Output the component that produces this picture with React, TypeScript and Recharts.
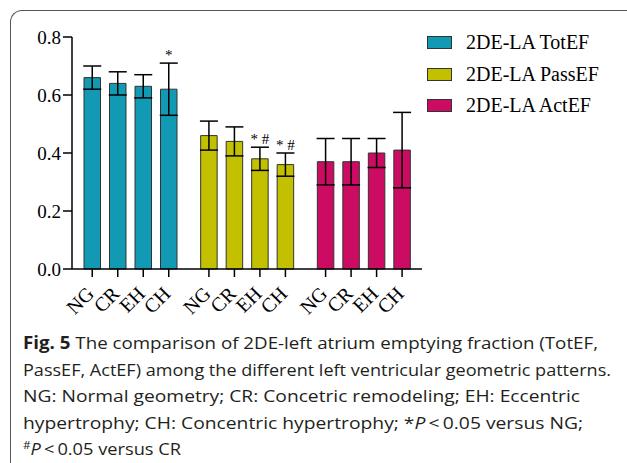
import React from 'react';
import { BarChart, Bar, XAxis, YAxis, Cell, ErrorBar, LabelList, Legend } from 'recharts';

const GROUPS = ['2DE-LA TotEF', '2DE-LA PassEF', '2DE-LA ActEF'];
const COLORS = ['#1299b3', '#c3c000', '#cc0b62'];

// mean per group (TotEF, PassEF, ActEF)
const NG = [0.66, 0.46, 0.37];
const CR = [0.64, 0.44, 0.37];
const EH = [0.63, 0.38, 0.40];
const CH = [0.62, 0.36, 0.41];

// SD
const NG_ERR = [0.04, 0.05, 0.08];
const CR_ERR = [0.04, 0.05, 0.08];
const EH_ERR = [0.04, 0.04, 0.05];
const CH_ERR = [0.09, 0.04, 0.13];

// significance marks
const NG_SIG = ['', '', ''];
const CR_SIG = ['', '', ''];
const EH_SIG = ['', '* #', ''];
const CH_SIG = ['*', '* #', ''];

const Y_TICKS = [0, 0.2, 0.4, 0.6, 0.8];

const SERIES = [
  { key: 'NG', vals: NG, err: NG_ERR, sig: NG_SIG },
  { key: 'CR', vals: CR, err: CR_ERR, sig: CR_SIG },
  { key: 'EH', vals: EH, err: EH_ERR, sig: EH_SIG },
  { key: 'CH', vals: CH, err: CH_ERR, sig: CH_SIG },
];

const data = GROUPS.map((g, i) => {
  const row: any = { group: g };
  SERIES.forEach(s => {
    row[s.key] = s.vals[i];
    row[s.key + '_err'] = s.err[i];
  });
  return row;
});

const SERIF = '"Liberation Serif", "Times New Roman", serif';
const SANS = '"Open Sans", "Noto Sans", sans-serif';

const makeTick = (name: string) => (props: any) => {
  const { x, y, width, height } = props;
  const cx = x + width / 2;
  const base = y + height;
  const ax = cx + 3;
  const ay = base + 26;
  return (
    <g>
      <line x1={cx} y1={base} x2={cx} y2={base + 8} stroke="#000" strokeWidth={1.5} />
      <text
        x={ax}
        y={ay}
        textAnchor="end"
        transform={`rotate(-45 ${ax} ${ay})`}
        fontFamily={SERIF}
        fontSize={20}
        style={{ fill: '#000' }}
      >
        {name}
      </text>
    </g>
  );
};

const makeSig = (sig: string[], err: number[]) => (props: any) => {
  const { x, y, width, height, value, index } = props;
  const mark = sig[index];
  if (!mark) return null;
  const top = y - err[index] * (height / value);
  return (
    <text
      x={x + width / 2}
      y={top - 3}
      textAnchor="middle"
      fontFamily={SERIF}
      fontSize={15}
      style={{ fill: '#000' }}
    >
      {mark}
    </text>
  );
};

const renderLegend = () => (
  <div style={{ fontFamily: SERIF, fontSize: 20, color: '#000' }}>
    {GROUPS.map((g, i) => (
      <div key={g} style={{ display: 'flex', alignItems: 'center', height: 31.5 }}>
        <span
          style={{
            width: 23,
            height: 11,
            background: COLORS[i],
            border: '1px solid #333',
            marginRight: 14,
            display: 'inline-block',
          }}
        />
        <span>{g}</span>
      </div>
    ))}
  </div>
);

const App: React.FC = () => {
  return (
    <div style={{ position: 'absolute', left: 0, top: 0, width: 627, height: 463, background: '#fff', overflow: 'hidden' }}>
      <div
        style={{
          position: 'absolute',
          left: 10,
          top: 10,
          width: 700,
          height: 470,
          borderTop: '1.5px solid #555',
          borderLeft: '1.5px solid #555',
          borderTopLeftRadius: 12,
          boxSizing: 'border-box',
        }}
      />
      <div style={{ position: 'absolute', left: 0, top: 0 }}>
        <BarChart
          width={627}
          height={330}
          data={data}
          margin={{ top: 37, right: 205, left: 0, bottom: 0 }}
          barSize={16.5}
          barGap={9}
        >
          <XAxis
            dataKey="group"
            height={61}
            tick={false}
            tickLine={false}
            axisLine={{ stroke: '#000', strokeWidth: 1.5 }}
          />
          <YAxis
            width={72}
            domain={[0, 0.8]}
            ticks={Y_TICKS}
            interval={0}
            tickFormatter={(v: number) => v.toFixed(1)}
            tickSize={9}
            tickMargin={2}
            tickLine={{ stroke: '#000', strokeWidth: 1.5 }}
            axisLine={{ stroke: '#000', strokeWidth: 1.5 }}
            tick={{ fill: '#000', fontFamily: SERIF, fontSize: 19 }}
          />
          <Legend
            layout="vertical"
            align="center"
            verticalAlign="middle"
            content={renderLegend}
            wrapperStyle={{ left: 427, top: 27, width: 200, height: 95 }}
          />
          {SERIES.map(s => (
            <Bar key={s.key} dataKey={s.key} stroke="#333" strokeWidth={1} isAnimationActive={false}>
              {data.map((d, i) => (
                <Cell key={i} fill={COLORS[i]} />
              ))}
              <ErrorBar dataKey={s.key + '_err'} width={9} stroke="#000" strokeWidth={1.5} />
              <LabelList dataKey={s.key} content={makeTick(s.key)} />
              <LabelList dataKey={s.key} content={makeSig(s.sig, s.err)} />
            </Bar>
          ))}
        </BarChart>
      </div>
      <svg width={627} height={463} style={{ position: 'absolute', left: 0, top: 0 }}>
        <g fontFamily={SANS} fontSize={17} fill="#231f20">
          <text x={23} y={349} textLength={575} lengthAdjust="spacingAndGlyphs">
            <tspan fontWeight="bold">Fig. 5</tspan>{'  The comparison of 2DE-left atrium emptying fraction (TotEF,'}
          </text>
          <text x={23} y={376} textLength={588} lengthAdjust="spacingAndGlyphs">
            PassEF, ActEF) among the different left ventricular geometric patterns.
          </text>
          <text x={23} y={402} textLength={557} lengthAdjust="spacingAndGlyphs">
            NG: Normal geometry; CR: Concetric remodeling; EH: Eccentric
          </text>
          <text x={23} y={429} textLength={560} lengthAdjust="spacingAndGlyphs">
            {'hypertrophy; CH: Concentric hypertrophy; *'}
            <tspan fontStyle="italic">P</tspan>
            {'\u2009<\u20090.05 versus NG;'}
          </text>
          <text x={23} y={455} textLength={158} lengthAdjust="spacingAndGlyphs">
            <tspan fontSize={11} dy={-6}>#</tspan>
            <tspan fontStyle="italic" dy={6}>P</tspan>
            {'\u2009<\u20090.05 versus CR'}
          </text>
        </g>
      </svg>
    </div>
  );
};

export default App;
